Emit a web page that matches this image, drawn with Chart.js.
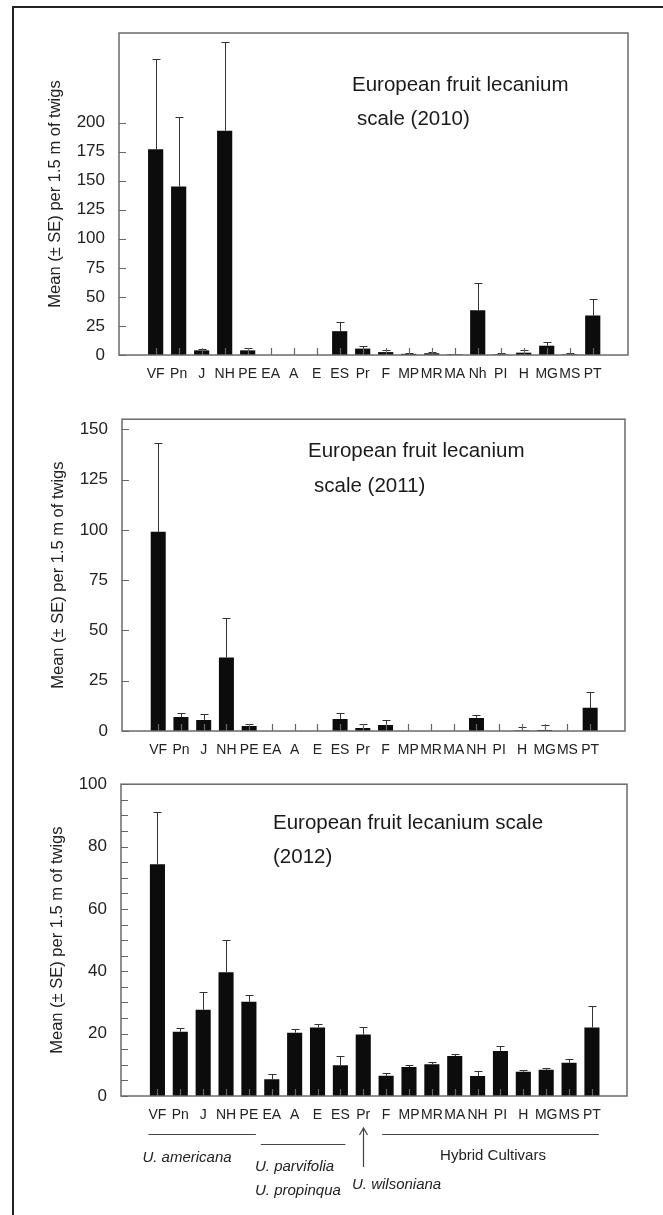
<!DOCTYPE html>
<html>
<head>
<meta charset="utf-8">
<script src="https://cdn.jsdelivr.net/npm/chart.js@4.4.1/dist/chart.umd.min.js"></script>
<style>
body { margin: 0; background: #fff; width: 663px; height: 1215px; overflow: hidden; position: relative; }
canvas { position: absolute; left: 0; }
#frame { position: absolute; left: 12px; top: 6px; right: 0; bottom: 0; border-top: 2px solid #222; border-left: 2px solid #222; }
</style>
</head>
<body>
<div id="frame"></div>
<canvas id="c2010" width="663" height="395" style="top:0px"></canvas>
<canvas id="c2011" width="663" height="365" style="top:395px"></canvas>
<canvas id="c2012" width="663" height="455" style="top:760px"></canvas>
<script>
// category codes (the 2011 / 2012 panels print "NH" where 2010 prints "Nh")
var cats2010 = ['VF','Pn','J','NH','PE','EA','A','E','ES','Pr','F','MP','MR','MA','Nh','PI','H','MG','MS','PT'];
var cats2011 = ['VF','Pn','J','NH','PE','EA','A','E','ES','Pr','F','MP','MR','MA','NH','PI','H','MG','MS','PT'];
var cats2012 = cats2011;

// means and standard errors
var mean2010 = [177, 145, 4, 193, 4, 0, 0, 0, 20.5, 5.5, 2.5, 1, 1.5, 0.5, 38.5, 0.5, 2, 8, 0.5, 34];
var se2010   = [78, 60, 1.5, 76, 2, 0, 0, 0, 8, 2.5, 1.5, 1, 1.5, 0, 23.5, 1.5, 2, 3.5, 1.5, 14];

var mean2011 = [99, 7, 5.5, 36.5, 2.5, 0, 0, 0, 6, 1.5, 3, 0, 0, 0, 6.5, 0, 0.3, 0.5, 0, 11.5];
var se2011   = [44, 2, 3, 19.5, 1, 0, 0, 0, 3, 2, 2.5, 0, 0, 0, 1.5, 0, 1.7, 2.5, 0, 8];

var mean2012 = [74.3, 20.6, 27.7, 39.7, 30.2, 5.4, 20.3, 22, 9.9, 19.7, 6.5, 9.3, 10.2, 12.8, 6.4, 14.4, 7.8, 8.4, 10.7, 22];
var se2012   = [16.9, 1.3, 5.8, 10.4, 2.3, 1.7, 1.2, 1, 3, 2.4, 0.9, 0.8, 0.6, 0.8, 1.5, 1.7, 0.5, 0.7, 1.1, 7];

var yTicks2010 = [0, 25, 50, 75, 100, 125, 150, 175, 200];
var yTicks2011 = [0, 25, 50, 75, 100, 125, 150];
var yTicks2012 = [0, 20, 40, 60, 80, 100];
var yMinor2012 = [5, 10, 15, 25, 30, 35, 45, 50, 55, 65, 70, 75, 85, 90, 95];

var yTitle = 'Mean (\u00b1 SE) per 1.5 m of twigs';
var FONT = "'Liberation Sans', Arial, Helvetica, sans-serif";

Chart.defaults.font.family = FONT;
Chart.defaults.color = '#222';

// frame, inward ticks, error bars, panel text
var panelPlugin = {
	id: 'panel',
	afterDatasetsDraw: function(chart, args, opts) {
		var ctx = chart.ctx;
		var a = chart.chartArea;
		var xs = chart.scales.x, ys = chart.scales.y;
		var meta = chart.getDatasetMeta(0);
		ctx.save();

		// error bars (upper half only)
		ctx.strokeStyle = '#333';
		ctx.lineWidth = 1;
		opts.se.forEach(function(se, i) {
			if (!se) return;
			var x = Math.round(meta.data[i].x) + 0.5;
			var y0 = ys.getPixelForValue(opts.mean[i]);
			var y1 = Math.round(ys.getPixelForValue(opts.mean[i] + se)) + 0.5;
			ctx.beginPath();
			ctx.moveTo(x, y0);
			ctx.lineTo(x, y1);
			ctx.moveTo(x - 4, y1);
			ctx.lineTo(x + 4, y1);
			ctx.stroke();
		});

		// inward tick marks
		ctx.strokeStyle = '#666';
		ctx.lineWidth = 1.2;
		ctx.beginPath();
		opts.yTicks.concat(opts.yMinor || []).forEach(function(v) {
			var y = Math.round(ys.getPixelForValue(v)) + 0.5;
			ctx.moveTo(a.left, y);
			ctx.lineTo(a.left + 7, y);
		});
		opts.cats.forEach(function(c, i) {
			var x = Math.round(xs.getPixelForValue(i)) + 0.5;
			ctx.moveTo(x, a.bottom);
			ctx.lineTo(x, a.bottom - 7);
		});
		ctx.stroke();

		// plot frame
		ctx.strokeStyle = '#6a6a6a';
		ctx.lineWidth = 1.5;
		ctx.strokeRect(a.left, a.top, a.right - a.left, a.bottom - a.top);

		// panel heading
		ctx.fillStyle = '#1a1a1a';
		ctx.font = '20.5px ' + FONT;
		ctx.textBaseline = 'middle';
		ctx.textAlign = 'left';
		opts.heading.forEach(function(h) {
			ctx.fillText(h.text, h.x, h.y);
		});

		// species groups under the last panel
		if (opts.groups) {
			var px = function(i) { return xs.getPixelForValue(i); };
			ctx.strokeStyle = '#444';
			ctx.lineWidth = 1.2;
			ctx.beginPath();
			ctx.moveTo(px(0) - 9, 374.5); ctx.lineTo(px(4) + 7, 374.5);
			ctx.moveTo(px(5) - 11, 384.5); ctx.lineTo(px(8) + 5, 384.5);
			ctx.moveTo(px(10) - 4, 374.5); ctx.lineTo(px(19) + 7, 374.5);
			var ax = Math.round(px(9)) + 0.5;
			ctx.moveTo(ax, 368); ctx.lineTo(ax, 407);
			ctx.moveTo(ax - 4, 375); ctx.lineTo(ax, 368); ctx.lineTo(ax + 4, 375);
			ctx.stroke();

			ctx.fillStyle = '#222';
			ctx.font = 'italic 15px ' + FONT;
			ctx.textAlign = 'center';
			ctx.fillText('U. americana', 187, 398);
			ctx.textAlign = 'left';
			ctx.fillText('U. parvifolia', 255, 407);
			ctx.fillText('U. propinqua', 255, 431);
			ctx.fillText('U. wilsoniana', 352, 425);
			ctx.font = '15px ' + FONT;
			ctx.textAlign = 'center';
			ctx.fillText('Hybrid Cultivars', 493, 396);
		}
		ctx.restore();
	}
};

function render_panel(id, cats, mean, se, yMax, yTicks, yMinor, pad, xH, heading, groups) {
	var ctx = document.getElementById(id).getContext('2d');
	return new Chart(ctx, {
		type: 'bar',
		data: {
			datasets: [{
				data: mean.map(function(v, i) { return {x: i, y: v}; }),
				backgroundColor: '#0c0c0c',
				borderWidth: 0,
				barPercentage: 0.66,
				categoryPercentage: 1
			}]
		},
		plugins: [panelPlugin],
		options: {
			responsive: false,
			animation: false,
			devicePixelRatio: 1,
			layout: { padding: pad },
			plugins: {
				legend: { display: false },
				tooltip: { enabled: false },
				panel: { cats: cats, mean: mean, se: se, yTicks: yTicks, yMinor: yMinor, heading: heading, groups: groups }
			},
			scales: {
				x: {
					type: 'linear',
					min: -1.04,
					max: 19.98,
					afterBuildTicks: function(s) { s.ticks = cats.map(function(c, i) { return {value: i}; }); },
					afterFit: function(s) { s.height = xH; },
					grid: { display: false, drawTicks: false },
					border: { display: false },
					ticks: {
						autoSkip: false,
						maxRotation: 0,
						padding: 11,
						color: '#222',
						font: { size: 14 },
						callback: function(v) { return cats[v]; }
					}
				},
				y: {
					min: 0,
					max: yMax,
					afterBuildTicks: function(s) { s.ticks = yTicks.map(function(v) { return {value: v}; }); },
					afterFit: function(s) { s.width = 80; },
					grid: { display: false, drawTicks: false },
					border: { display: false },
					ticks: { padding: 14, color: '#222', font: { size: 17 } },
					title: {
						display: true,
						text: yTitle,
						color: '#222',
						font: { size: 16.5 },
						padding: { top: 7, bottom: 0 }
					}
				}
			}
		}
	});
}

render_panel('c2010', cats2010, mean2010, se2010, 277, yTicks2010, null,
	{top: 33, bottom: 10, left: 39, right: 35}, 30,
	[{text: 'European fruit lecanium', x: 352, y: 85}, {text: 'scale (2010)', x: 357, y: 119}], false);

render_panel('c2011', cats2011, mean2011, se2011, 155, yTicks2011, null,
	{top: 17, bottom: 1, left: 42, right: 38}, 28,
	[{text: 'European fruit lecanium', x: 308, y: 56}, {text: 'scale (2011)', x: 314, y: 91}], false);

render_panel('c2012', cats2012, mean2012, se2012, 100, yTicks2012, yMinor2012,
	{top: 16, bottom: 89, left: 41, right: 36}, 30,
	[{text: 'European fruit lecanium scale', x: 273, y: 63}, {text: '(2012)', x: 273, y: 97}], true);
</script>
</body>
</html>
